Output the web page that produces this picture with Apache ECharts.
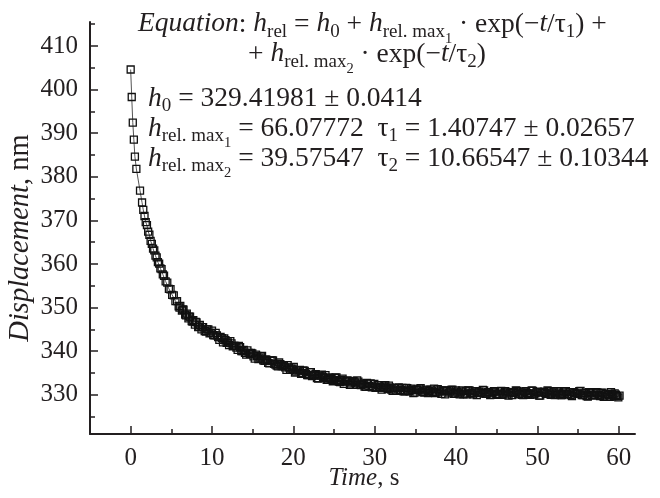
<!DOCTYPE html>
<html>
<head>
<meta charset="utf-8">
<script src="https://cdn.jsdelivr.net/npm/echarts@6/dist/echarts.min.js"></script>
<style>
	html, body { margin: 0; padding: 0; background: #fff; }
	#chart { width: 660px; height: 498px; }
</style>
</head>
<body>
<div id="chart"></div>
<script>
var measured = [
	[0.0, 404.6], [0.13, 398.3], [0.26, 392.4], [0.39, 388.5], [0.52, 384.6], [0.7, 381.8],
	[1.15, 376.8], [1.4, 374.1], [1.55, 372.4], [1.7, 371.0], [1.85, 369.6], [2.0, 368.9],
	[2.15, 367.4], [2.3, 366.7], [2.45, 365.3], [2.6, 364.6], [2.75, 363.5], [2.9, 363.1],
	[3.05, 361.9], [3.2, 361.5], [3.35, 360.4], [3.5, 360.1], [3.65, 359.0], [3.8, 358.8],
	[3.95, 357.6], [4.1, 357.3], [4.3, 356.0], [4.5, 355.7], [4.7, 354.3], [4.9, 354.2],
	[5.1, 352.9], [5.3, 352.8], [5.5, 351.5], [5.7, 351.5], [5.9, 350.3], [6.1, 350.4],
	[6.3, 349.3], [6.5, 349.5], [6.7, 348.4], [6.9, 348.6], [7.1, 347.5], [7.3, 347.9],
	[7.5, 346.9], [7.7, 347.1], [7.9, 346.1], [8.1, 346.6], [8.3, 345.5], [8.5, 346.0],
	[8.7, 345.0], [8.9, 345.5], [9.1, 344.6], [9.4, 345.0], [9.7, 344.1],
	[10.0, 344.7], [10.3, 343.6], [10.6, 343.6], [10.9, 342.6], [11.2, 343.0], [11.5, 342.9],
	[11.8, 341.9], [12.1, 341.4], [12.4, 341.8], [12.7, 341.2], [13.0, 340.8], [13.3, 341.2],
	[13.6, 340.0], [13.9, 340.3], [14.2, 339.2], [14.5, 339.6], [14.8, 339.6], [15.1, 338.8],
	[15.4, 339.2], [15.7, 338.2], [16.0, 338.8], [16.3, 337.9], [16.6, 338.1], [16.9, 337.3],
	[17.2, 337.8], [17.5, 337.9], [17.8, 336.9], [18.1, 336.5], [18.4, 337.0], [18.7, 336.6],
	[19.0, 336.3], [19.3, 336.8], [19.6, 335.7], [19.9, 336.0], [20.2, 335.1], [20.5, 335.6],
	[20.8, 335.7], [21.1, 335.0], [21.4, 335.5], [21.7, 334.5], [22.0, 335.2], [22.3, 334.3],
	[22.6, 334.6], [22.9, 333.8], [23.2, 334.4], [23.5, 334.6], [23.8, 333.8], [24.1, 333.4],
	[24.4, 334.0], [24.7, 333.6], [25.0, 333.4], [25.3, 334.0], [25.6, 333.0], [25.9, 333.4],
	[26.2, 332.5], [26.5, 333.1], [26.8, 333.2], [27.1, 332.6], [27.4, 333.1], [27.7, 332.3],
	[28.0, 333.0], [28.3, 332.2], [28.6, 332.5], [28.9, 331.8], [29.2, 332.4], [29.5, 332.6],
	[29.8, 331.8], [30.1, 331.6], [30.4, 332.2], [30.7, 331.8], [31.0, 331.6], [31.3, 332.2],
	[31.6, 331.3], [31.9, 331.7], [32.2, 330.9], [32.5, 331.5], [32.8, 331.6], [33.1, 331.1],
	[33.4, 331.6], [33.7, 330.8], [34.0, 331.5], [34.3, 330.8], [34.6, 331.1], [34.9, 330.5],
	[35.2, 331.2], [35.5, 331.4], [35.8, 330.7], [36.1, 330.5], [36.4, 331.2], [36.7, 330.9],
	[37.0, 330.7], [37.3, 331.4], [37.6, 330.5], [37.9, 331.0], [38.2, 330.2], [38.5, 330.9],
	[38.8, 331.0], [39.1, 330.5], [39.4, 331.1], [39.7, 330.2], [40.0, 331.0], [40.3, 330.3],
	[40.6, 330.7], [40.9, 330.1], [41.2, 330.8], [41.5, 331.0], [41.8, 330.3], [42.1, 330.1],
	[42.4, 330.8], [42.7, 330.5], [43.0, 330.4], [43.3, 331.1], [43.6, 330.2], [43.9, 330.6],
	[44.2, 329.9], [44.5, 330.5], [44.8, 330.7], [45.1, 330.2], [45.4, 330.8], [45.7, 330.0],
	[46.0, 330.8], [46.3, 330.1], [46.6, 330.5], [46.9, 329.9], [47.2, 330.6], [47.5, 330.9],
	[47.8, 330.2], [48.1, 330.0], [48.4, 330.7], [48.7, 330.4], [49.0, 330.3], [49.3, 331.0],
	[49.6, 330.1], [49.9, 330.6], [50.2, 329.8], [50.5, 330.5], [50.8, 330.7], [51.1, 330.2],
	[51.4, 330.8], [51.7, 330.0], [52.0, 330.8], [52.3, 330.1], [52.6, 330.5], [52.9, 329.9],
	[53.2, 330.5], [53.5, 330.8], [53.8, 330.1], [54.1, 329.9], [54.4, 330.6], [54.7, 330.3],
	[55.0, 330.2], [55.3, 330.9], [55.6, 329.9], [55.9, 330.4], [56.2, 329.6], [56.5, 330.3],
	[56.8, 330.5], [57.1, 329.9], [57.4, 330.5], [57.7, 329.7], [58.0, 330.5], [58.3, 329.8],
	[58.6, 330.1], [58.9, 329.5], [59.2, 330.2], [59.5, 330.3], [59.8, 329.7], [60.1, 329.8]
];

// the in-between samples of the dense part of the record
var measuredExtra = [
	[6.0, 350.0], [6.4, 349.6], [6.8, 348.2], [7.2, 347.9], [7.6, 346.8], [8.0, 346.7],
	[8.4, 345.6], [8.8, 345.5], [9.25, 344.5], [9.55, 345.0], [9.85, 344.2],
	[10.15, 343.7], [10.45, 344.2], [10.75, 343.2], [11.05, 343.3], [11.35, 342.0], [11.65, 342.5],
	[11.95, 342.0], [12.25, 342.3], [12.55, 341.1], [12.85, 341.2], [13.15, 340.3], [13.45, 340.9],
	[13.75, 340.0], [14.05, 339.6], [14.35, 340.2], [14.65, 339.3], [14.95, 339.5], [15.25, 338.3],
	[15.55, 338.9], [15.85, 338.5], [16.15, 338.9], [16.45, 337.8], [16.75, 338.0], [17.05, 337.2],
	[17.35, 337.9], [17.65, 337.1], [17.95, 336.7], [18.25, 337.4], [18.55, 336.6], [18.85, 336.8],
	[19.15, 335.7], [19.45, 336.3], [19.75, 336.0], [20.05, 336.4], [20.35, 335.3], [20.65, 335.6],
	[20.95, 334.8], [21.25, 335.6], [21.55, 334.8], [21.85, 334.5], [22.15, 335.2], [22.45, 334.5],
	[22.75, 334.7], [23.05, 333.7], [23.35, 334.4], [23.65, 334.1], [23.95, 334.5], [24.25, 333.5],
	[24.55, 333.8], [24.85, 333.1], [25.15, 333.9], [25.45, 333.2], [25.75, 332.9], [26.05, 333.7],
	[26.35, 333.0], [26.65, 333.3], [26.95, 332.3], [27.25, 333.0], [27.55, 332.8], [27.85, 333.3],
	[28.15, 332.3], [28.45, 332.6], [28.75, 331.9], [29.05, 332.7], [29.35, 332.0], [29.65, 331.7],
	[29.95, 332.5], [30.25, 331.8], [30.55, 332.2], [30.85, 331.2], [31.15, 331.9], [31.45, 331.6],
	[31.75, 332.1], [32.05, 331.2], [32.35, 331.5], [32.65, 330.9], [32.95, 331.7], [33.25, 331.1],
	[33.55, 330.8], [33.85, 331.6], [34.15, 331.0], [34.45, 331.4], [34.75, 330.4], [35.05, 331.2],
	[35.35, 331.0], [35.65, 331.5], [35.95, 330.6], [36.25, 331.0], [36.55, 330.4], [36.85, 331.2],
	[37.15, 330.6], [37.45, 330.4], [37.75, 331.3], [38.05, 330.7], [38.35, 331.0], [38.65, 330.1],
	[38.95, 330.9], [39.25, 330.7], [39.55, 331.2], [39.85, 330.3], [40.15, 330.7], [40.45, 330.1],
	[40.75, 331.0], [41.05, 330.3], [41.35, 330.1], [41.65, 331.0], [41.95, 330.4], [42.25, 330.8],
	[42.55, 329.9], [42.85, 330.7], [43.15, 330.5], [43.45, 331.0], [43.75, 330.2], [44.05, 330.5],
	[44.35, 330.0], [44.65, 330.8], [44.95, 330.2], [45.25, 330.0], [45.55, 330.9], [45.85, 330.3],
	[46.15, 330.7], [46.45, 329.8], [46.75, 330.6], [47.05, 330.4], [47.35, 331.0], [47.65, 330.1],
	[47.95, 330.5], [48.25, 329.9], [48.55, 330.8], [48.85, 330.2], [49.15, 330.0], [49.45, 330.9],
	[49.75, 330.3], [50.05, 330.7], [50.35, 329.8], [50.65, 330.6], [50.95, 330.4], [51.25, 331.0],
	[51.55, 330.1], [51.85, 330.5], [52.15, 329.9], [52.45, 330.8], [52.75, 330.2], [53.05, 329.9],
	[53.35, 330.8], [53.65, 330.2], [53.95, 330.6], [54.25, 329.7], [54.55, 330.5], [54.85, 330.3],
	[55.15, 330.8], [55.45, 329.9], [55.75, 330.3], [56.05, 329.7], [56.35, 330.6], [56.65, 330.0],
	[56.95, 329.8], [57.25, 330.6], [57.55, 330.0], [57.85, 330.4], [58.15, 329.5], [58.45, 330.2],
	[58.75, 330.0], [59.05, 330.6], [59.35, 329.7], [59.65, 330.0], [59.95, 329.4]
];

var xMajorTicks = [0, 10, 20, 30, 40, 50, 60];
var xMinorTicks = [5, 15, 25, 35, 45, 55];
var yMajorTicks = [330, 340, 350, 360, 370, 380, 390, 400, 410];
var yMinorTicks = [325, 335, 345, 355, 365, 375, 385, 395, 405, 415];

var serif = "'Liberation Serif', 'Times New Roman', serif";
var ink = '#231f20';

// one record, ordered by time
var record = measured.concat(measuredExtra).sort(function(a, b) {
	return a[0] - b[0];
});

// rich styles for the equation text: tokens are top aligned,
// subscripts are pushed down with top padding
var eqRich = {
	n: { fontFamily: serif, fontSize: 27.5, fill: ink, verticalAlign: 'top' },
	i: { fontFamily: serif, fontSize: 27.5, fontStyle: 'italic', fill: ink, verticalAlign: 'top' },
	s: { fontFamily: serif, fontSize: 19, fill: ink, verticalAlign: 'top', padding: [12, 0, 0, 0] },
	ss: { fontFamily: serif, fontSize: 14.5, fill: ink, verticalAlign: 'top', padding: [21, 0, 0, 0] }
};

function eqText(x, y, text) {
	return {
		type: 'text',
		x: x,
		y: y,
		silent: true,
		style: {
			text: text,
			align: 'left',
			verticalAlign: 'top',
			rich: eqRich
		}
	};
}

function plainText(x, y, rotation, text, size) {
	return {
		type: 'text',
		x: x,
		y: y,
		rotation: rotation,
		silent: true,
		style: {
			text: text,
			align: 'center',
			verticalAlign: 'middle',
			rich: {
				i: { fontFamily: serif, fontSize: size, fontStyle: 'italic', fill: ink },
				n: { fontFamily: serif, fontSize: size, fill: ink }
			}
		}
	};
}

var chart = echarts.init(document.getElementById('chart'), null, { renderer: 'canvas' });

var axisCommon = {
	type: 'value',
	splitLine: { show: false }
};

var option = {
	animation: false,
	backgroundColor: '#fff',
	grid: { left: 90, right: 25, top: 22, bottom: 64, outerBoundsMode: 'none' },
	xAxis: [
		Object.assign({}, axisCommon, {
			min: -5,
			max: 62,
			position: 'bottom',
			axisLine: { onZero: false, lineStyle: { color: ink, width: 2 } },
			axisTick: { inside: true, length: 8, customValues: xMajorTicks, lineStyle: { color: ink, width: 1.5 } },
			axisLabel: {
				customValues: xMajorTicks,
				margin: 12,
				fontFamily: serif,
				fontSize: 25,
				color: ink
			}
		}),
		Object.assign({}, axisCommon, {
			min: -5,
			max: 62,
			position: 'bottom',
			axisLine: { show: false, onZero: false },
			axisTick: { inside: true, length: 5, customValues: xMinorTicks, lineStyle: { color: ink, width: 1.5 } },
			axisLabel: { show: false }
		})
	],
	yAxis: [
		Object.assign({}, axisCommon, {
			min: 321,
			max: 415.5,
			position: 'left',
			axisLine: { show: true, onZero: false, lineStyle: { color: ink, width: 2 } },
			axisTick: { show: true, inside: true, length: 8, customValues: yMajorTicks, lineStyle: { color: ink, width: 1.5 } },
			axisLabel: {
				customValues: yMajorTicks,
				margin: 12,
				fontFamily: serif,
				fontSize: 25,
				color: ink
			}
		}),
		Object.assign({}, axisCommon, {
			min: 321,
			max: 415.5,
			position: 'left',
			axisLine: { show: false, onZero: false },
			axisTick: { show: true, inside: true, length: 5, customValues: yMinorTicks, lineStyle: { color: ink, width: 1.5 } },
			axisLabel: { show: false }
		})
	],
	series: [
		{
			type: 'line',
			xAxisIndex: 0,
			yAxisIndex: 0,
			data: record,
			showSymbol: true,
			showAllSymbol: true,
			symbol: 'rect',
			symbolSize: 7,
			lineStyle: { color: '#555', width: 1 },
			// hollow squares, the fit line shows through them
			itemStyle: { color: 'rgba(255,255,255,0)', borderColor: '#111', borderWidth: 1.3 },
			emphasis: { disabled: true }
		}
	],
	graphic: [
		// axis names
		plainText(21, 238, Math.PI / 2, '{i|Displacement}{n|, nm}', 28.5),
		plainText(364, 478, 0, '{i|Time}{n|, s}', 25),
		// fit equation and parameters
		eqText(138, 10.5, '{i|Equation}{n|: }{i|h}{s|rel}{n| = }{i|h}{s|0}{n| + }{i|h}{s|rel. max}{ss|1}{n| · exp(−}{i|t}{n|/τ}{s|1}{n|) +}'),
		eqText(248, 40.5, '{n|+ }{i|h}{s|rel. max}{ss|2}{n| · exp(−}{i|t}{n|/τ}{s|2}{n|)}'),
		eqText(148, 85, '{i|h}{s|0}{n| = 329.41981 ± 0.0414}'),
		eqText(148, 115, '{i|h}{s|rel. max}{ss|1}{n| = 66.07772  τ}{s|1}{n| = 1.40747 ± 0.02657}'),
		eqText(148, 145, '{i|h}{s|rel. max}{ss|2}{n| = 39.57547  τ}{s|2}{n| = 10.66547 ± 0.10344}')
	]
};

chart.setOption(option);
</script>
</body>
</html>
